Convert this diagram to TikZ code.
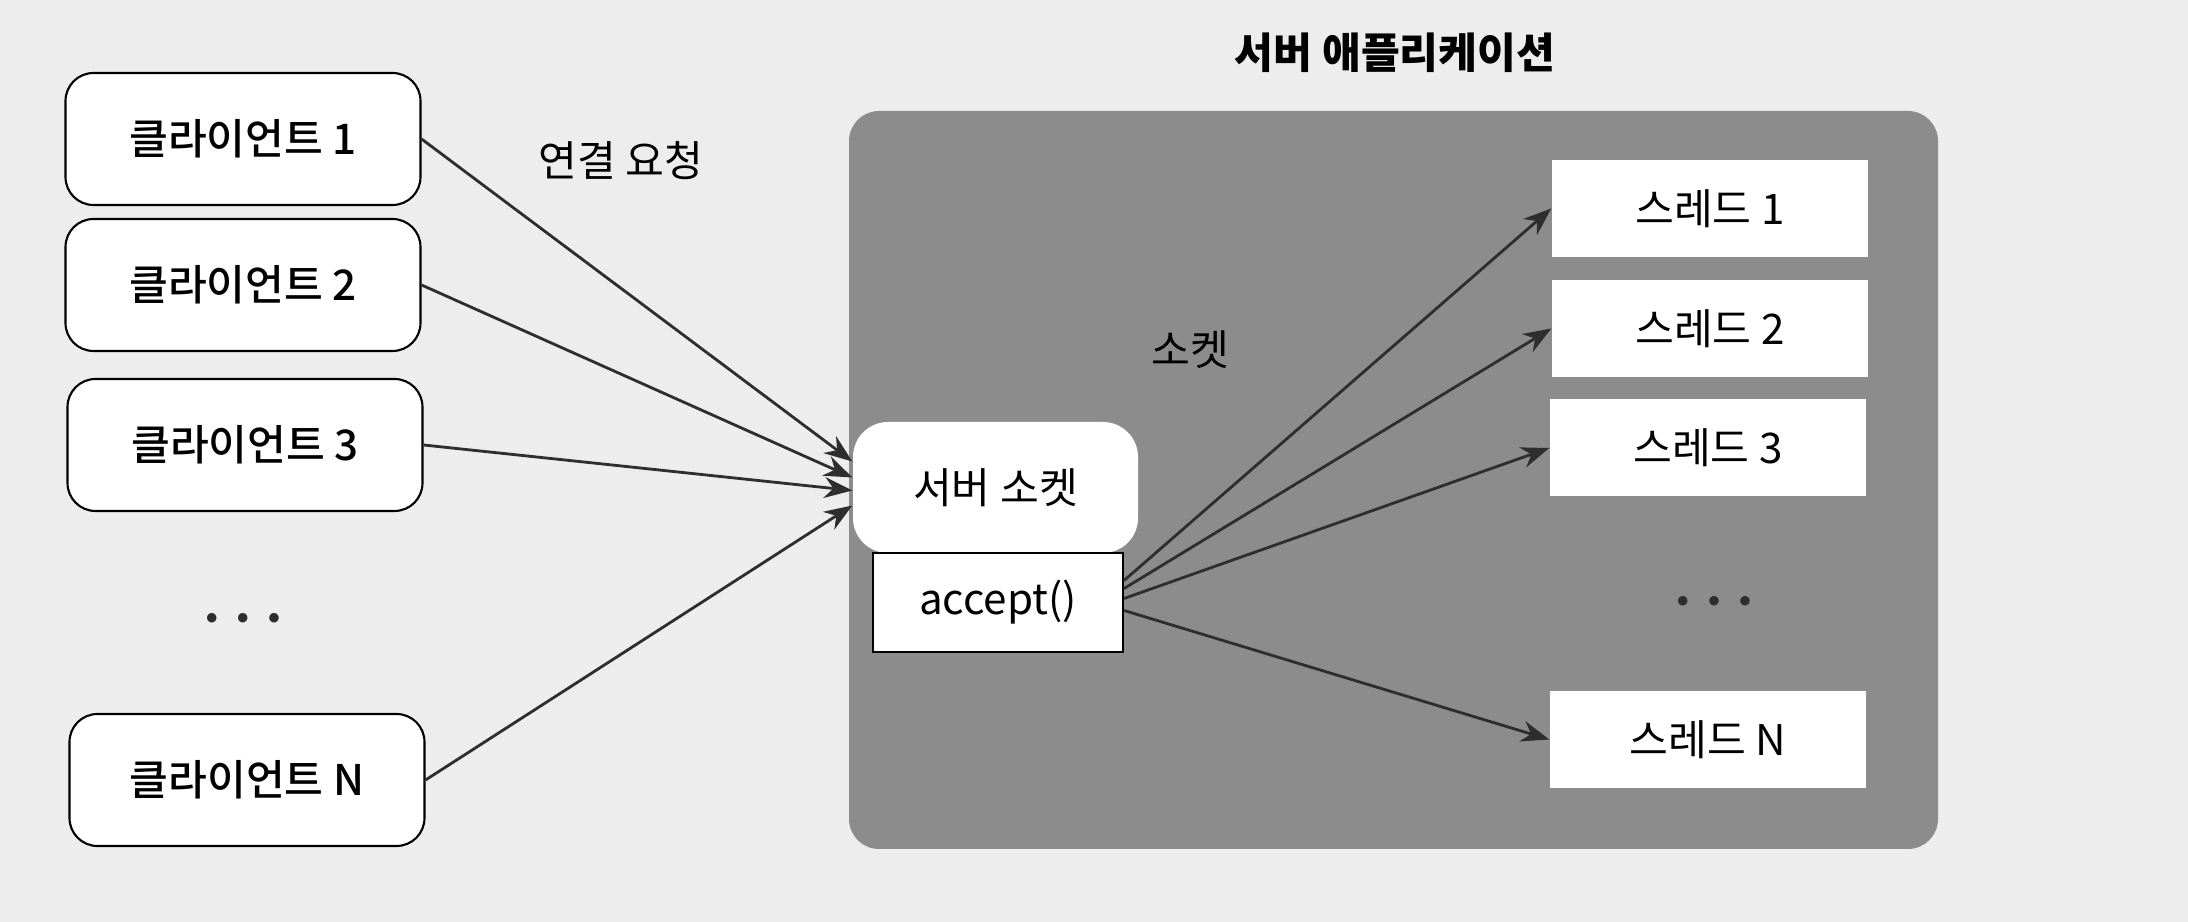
\documentclass[tikz,border=0pt]{standalone}
\usepackage{fontspec}
\setmainfont{Noto Sans CJK KR}
\newfontfamily\medfont{Noto Sans CJK KR Medium}
\usetikzlibrary{arrows.meta}
\definecolor{paper}{gray}{0.93}
\definecolor{appgray}{gray}{0.55}
\definecolor{ink}{gray}{0.18}

\begin{document}
\begin{tikzpicture}[>={Stealth[length=8pt,width=6pt]},
  font=\fontsize{12}{14}\selectfont,
  client/.style={draw,line width=0.6pt,rounded corners=0.28cm,fill=white,
    minimum width=3.55cm,minimum height=1.32cm,font=\fontsize{12}{14}\medfont},
  threadbox/.style={fill=white,minimum width=3.16cm,minimum height=0.97cm},
  conn/.style={->,draw=ink,line width=0.8pt},
  dots/.style={font=\fontsize{6.5}{7}\selectfont,text=ink}]
  % fond de page
  \fill[paper] (0,0) rectangle (21.88,-9.22);
  \useasboundingbox (0,0) rectangle (21.88,-9.22);

  % Application serveur
  \node[fill=appgray,rounded corners=0.3cm,minimum width=10.89cm,
    minimum height=7.38cm] (app) at (13.935,-4.80) {};
  \node[font=\fontsize{12}{14}\selectfont\bfseries] (title) at (13.95,-0.53) {서버 애플리케이션};
  \node (socklabel) at (11.9,-3.5) {소켓};

  % Socket serveur
  \node[fill=white,rounded corners=0.35cm,minimum width=2.85cm,
    minimum height=1.31cm] (sock) at (9.955,-4.875) {서버 소켓};
  \node[draw,line width=0.6pt,fill=white,minimum width=2.5cm,
    minimum height=0.99cm] (accept) at (9.98,-6.025) {accept()};

  % Clients
  \node[client] (c1) at (2.43,-1.39) {클라이언트 1};
  \node[client] (c2) at (2.43,-2.85) {클라이언트 2};
  \node[client] (c3) at (2.45,-4.45) {클라이언트 3};
  \node[dots] (cdots) at (2.43,-6.18) {$\bullet$\hspace{5pt}$\bullet$\hspace{5pt}$\bullet$};
  \node[client] (cN) at (2.47,-7.80) {클라이언트 N};
  \node (req) at (6.21,-1.61) {연결 요청};

  % Threads
  \node[threadbox] (t1) at (17.10,-2.085) {스레드 1};
  \node[threadbox] (t2) at (17.10,-3.285) {스레드 2};
  \node[threadbox] (t3) at (17.08,-4.48) {스레드 3};
  \node[dots] (tdots) at (17.14,-6.01) {$\bullet$\hspace{5pt}$\bullet$\hspace{5pt}$\bullet$};
  \node[threadbox] (tN) at (17.08,-7.395) {스레드 N};

  % Demandes de connexion
  \draw[conn] (c1.east) -- ([yshift=0.26cm]sock.west);
  \draw[conn] (c2.east) -- ([yshift=0.10cm]sock.west);
  \draw[conn] (c3.east) -- ([yshift=-0.03cm]sock.west);
  \draw[conn] (cN.east) -- ([yshift=-0.18cm]sock.west);

  % accept -> threads
  \draw[conn] ([yshift=0.22cm]accept.east) -- (t1.west);
  \draw[conn] ([yshift=0.14cm]accept.east) -- (t2.west);
  \draw[conn] ([yshift=0.04cm]accept.east) -- (t3.west);
  \draw[conn] ([yshift=-0.08cm]accept.east) -- (tN.west);
\end{tikzpicture}
\end{document}
